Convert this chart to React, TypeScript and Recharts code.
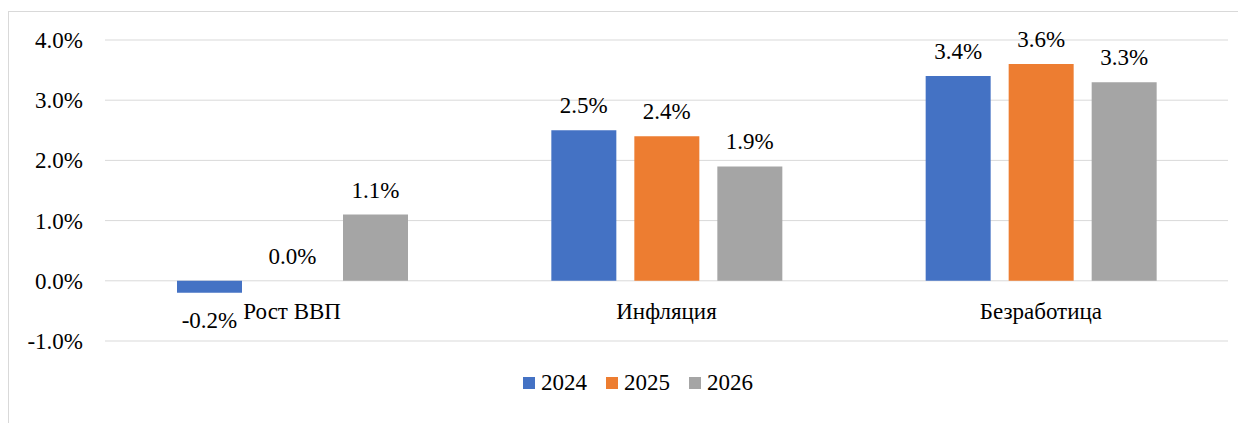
import React from "react";
import { BarChart, Bar, XAxis, YAxis, CartesianGrid, Legend } from "recharts";

const categories = ["Рост ВВП", "Инфляция", "Безработица"];
const series2024 = [-0.2, 2.5, 3.4];
const series2025 = [0.0, 2.4, 3.6];
const series2026 = [1.1, 1.9, 3.3];
const yTicks = [-1, 0, 1, 2, 3, 4];
const seriesNames = ["2024", "2025", "2026"];
const seriesColors = ["#4472C4", "#ED7D31", "#A5A5A5"];

const data = categories.map((c, i) => ({
  name: c,
  "2024": series2024[i],
  "2025": series2025[i],
  "2026": series2026[i],
}));

const FONT = "'Liberation Serif', 'Times New Roman', serif";
const FS = 23;
const textStyle = { fontFamily: FONT, fontSize: FS };

const fmt = (v: number) => `${Number(v).toFixed(1)}%`;

const renderLabel = (props: any) => {
  const { x, y, width, height, value } = props;
  const h = Number(height) || 0;
  const top = Math.min(y, y + h);
  const bottom = Math.max(y, y + h);
  const cx = x + width / 2;
  const ty = value < 0 ? bottom + 35 : top - 17;
  return (
    <text x={cx} y={ty} textAnchor="middle" style={textStyle} fill="#000">
      {fmt(value)}
    </text>
  );
};

const CategoryTick = (props: any) => {
  const { x, y, payload } = props;
  return (
    <text x={x} y={y - 22} textAnchor="middle" style={textStyle} fill="#000">
      {payload.value}
    </text>
  );
};

const ValueTick = (props: any) => {
  const { x, y, payload } = props;
  return (
    <text x={x} y={y} dy={8} textAnchor="end" style={textStyle} fill="#000">
      {fmt(payload.value)}
    </text>
  );
};

const renderLegend = (props: any) => {
  const payload = props.payload || [];
  return (
    <div style={{ display: "flex", justifyContent: "center", alignItems: "center", fontFamily: FONT, fontSize: FS, color: "#000" }}>
      {payload.map((e: any, i: number) => (
        <div key={i} style={{ display: "flex", alignItems: "center", marginLeft: i === 0 ? 0 : 19 }}>
          <span style={{ display: "inline-block", width: 12, height: 12, background: e.color, marginRight: 6 }} />
          <span style={{ fontFamily: FONT }}>{e.value}</span>
        </div>
      ))}
    </div>
  );
};

export default function App() {
  return (
    <div
      style={{
        marginTop: 3,
        width: 1245,
        height: 412,
        borderTop: "1px solid #D9D9D9",
        borderLeft: "1px solid #D9D9D9",
        position: "relative",
        background: "#fff",
        fontFamily: FONT,
      }}
    >
      <BarChart
        width={1237}
        height={411}
        data={data}
        margin={{ top: 28, right: 18, bottom: 52, left: 0 }}
        barSize={65}
        barGap={18}
        style={{ fontFamily: FONT }}
      >
        <CartesianGrid horizontal={true} vertical={false} stroke="#D9D9D9" strokeWidth={1} />
        <XAxis
          dataKey="name"
          height={30}
          axisLine={false}
          tickLine={false}
          tickSize={0}
          tickMargin={0}
          tick={<CategoryTick />}
          interval={0}
        />
        <YAxis
          width={96}
          domain={[-1, 4]}
          ticks={yTicks}
          axisLine={false}
          tickLine={false}
          tickSize={0}
          tickMargin={22}
          tick={<ValueTick />}
          interval={0}
        />
        <Legend
          verticalAlign="middle"
          align="center"
          layout="horizontal"
          wrapperStyle={{ top: 358, left: 429, width: 400, fontFamily: FONT }}
          content={renderLegend}
        />
        {seriesNames.map((s, i) => (
          <Bar
            key={s}
            dataKey={s}
            fill={seriesColors[i]}
            isAnimationActive={false}
            label={renderLabel}
            minPointSize={(v: number) => (v === 0 ? 0.001 : 0)}
          />
        ))}
      </BarChart>
    </div>
  );
}
